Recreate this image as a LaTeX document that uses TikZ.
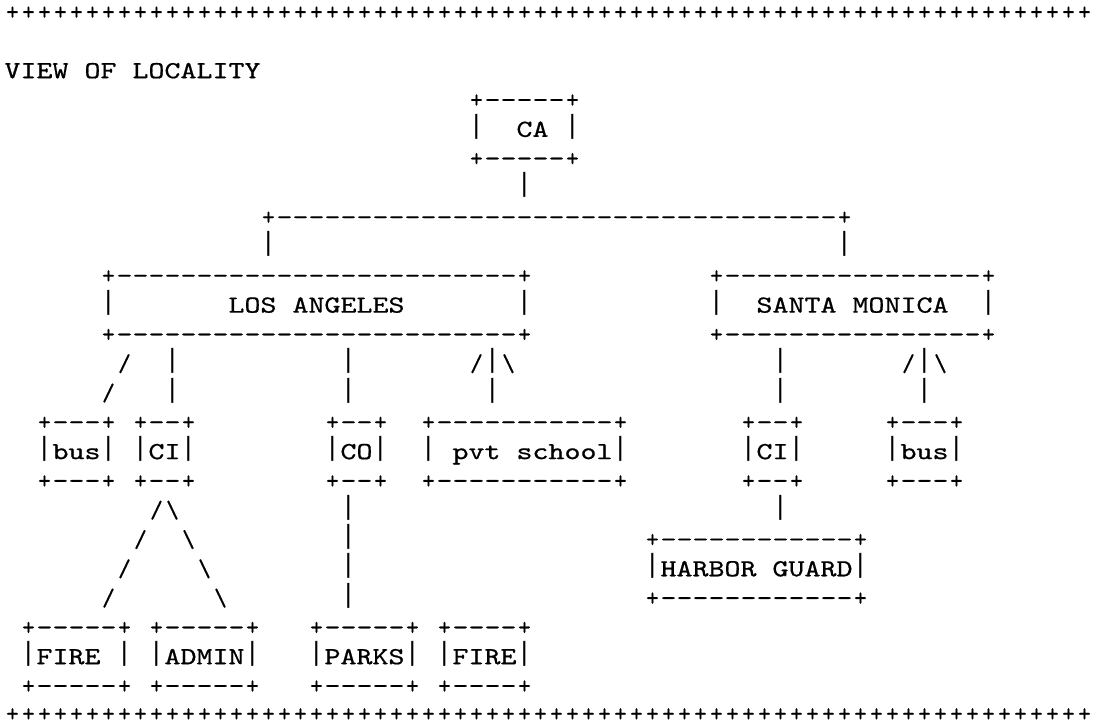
\documentclass[tikz,border=0pt]{standalone}
\usepackage{graphicx}
\usepackage{fontspec}
\newfontfamily\artfam{lmmono10-regular}[Extension=.otf,FakeBold=0.6]
\newfontfamily\barfam{DejaVu Sans Mono}
\newcommand\artfont{\artfam\fontsize{24.5}{29}\selectfont}
\newcommand\vbar{\raisebox{3.5pt}{\barfam\fontsize{25}{29}\selectfont|}}
\newcommand\hy{\scalebox{1.25}[1]{-}}
\newcommand\lbltext[1]{\scalebox{1.244}[1]{#1}}
% a row of ASCII border on the character grid: name, first col, last col, row
\newcommand\hrow[4]{%
  \node[sym] (#1-a) at (#2,#4) {+};
  \node[sym] (#1-b) at (#3,#4) {+};
  \pgfmathtruncatemacro\hrowfrom{#2+1}%
  \pgfmathtruncatemacro\hrowto{#3-1}%
  \foreach \i in {\hrowfrom,...,\hrowto} {\node[sym] (#1-\i) at (\i,#4) {\hy};}
}
% an ASCII box: name, first col, last col, label centre col, label, row of label
\newcommand\abox[6]{%
  \hrow{#1-top}{#2}{#3}{#6-1}
  \hrow{#1-bot}{#2}{#3}{#6+1}
  \node[sym] (#1-l) at (#2,#6) {\vbar};
  \node[sym] (#1-r) at (#3,#6) {\vbar};
  \node[lbl] (#1) at (#4,#6) {\lbltext{#5}};
}
\newcommand\cg[4]{\node[sym] (#1) at (#2,#3) {#4};}
\begin{document}
\begin{tikzpicture}[x=1pt,y=-1pt,
  sym/.style={anchor=base,inner sep=0pt,outer sep=0pt,font=\artfont},
  lbl/.style={anchor=base,inner sep=0pt,outer sep=0pt,font=\artfont}]
\fill[white] (0,0) rectangle (1096,726);
\useasboundingbox (0,0) rectangle (1096,726);
\begin{scope}[x=16pt,y=-29.3pt,shift={(12.5pt,-19.6pt)}]
% frame lines of plus signs
\foreach \i in {0,...,67} {
  \node[sym] (pt\i) at (\i,0) {+};
  \node[sym] (pb\i) at (\i,23.95) {+};
}
\node[lbl] (title) at (7.5,2) {\lbltext{VIEW OF LOCALITY}};
% boxes
\abox{ca}{29}{35}{32.5}{CA}{4}
\hrow{trunk}{16}{52}{7}
\abox{la}{6}{32}{19}{LOS ANGELES}{10}
\abox{sm}{44}{61}{52.5}{SANTA MONICA}{10}
\abox{busl}{2}{6}{4}{bus}{15}
\abox{cil}{8}{11}{9.5}{CI}{15}
\abox{co}{20}{23}{21.5}{CO}{15}
\abox{pvt}{26}{38}{32.5}{pvt school}{15}
\abox{cir}{46}{49}{47.5}{CI}{15}
\abox{busr}{55}{59}{57}{bus}{15}
\abox{hg}{40}{53}{46.5}{HARBOR GUARD}{19}
\abox{firel}{1}{7}{3.5}{FIRE}{22}
\abox{admin}{9}{15}{12}{ADMIN}{22}
\abox{parks}{19}{25}{22}{PARKS}{22}
\abox{firer}{27}{32}{29.5}{FIRE}{22}
% connectors
\cg{c1}{32}{6}{\vbar}
\cg{c2}{16}{8}{\vbar}
\cg{c3}{52}{8}{\vbar}
\cg{c4}{7}{12}{/}
\cg{c5}{10}{12}{\vbar}
\cg{c6}{21}{12}{\vbar}
\cg{c7}{29}{12}{/}
\cg{c8}{30}{12}{\vbar}
\cg{c9}{31}{12}{\textbackslash}
\cg{c10}{48}{12}{\vbar}
\cg{c11}{56}{12}{/}
\cg{c12}{57}{12}{\vbar}
\cg{c13}{58}{12}{\textbackslash}
\cg{c14}{6}{13}{/}
\cg{c15}{10}{13}{\vbar}
\cg{c16}{21}{13}{\vbar}
\cg{c17}{30}{13}{\vbar}
\cg{c18}{48}{13}{\vbar}
\cg{c19}{57}{13}{\vbar}
\cg{c20}{9}{17}{/}
\cg{c21}{10}{17}{\textbackslash}
\cg{c22}{21}{17}{\vbar}
\cg{c23}{48}{17}{\vbar}
\cg{c24}{8}{18}{/}
\cg{c25}{11}{18}{\textbackslash}
\cg{c26}{21}{18}{\vbar}
\cg{c27}{7}{19}{/}
\cg{c28}{12}{19}{\textbackslash}
\cg{c29}{21}{19}{\vbar}
\cg{c30}{6}{20}{/}
\cg{c31}{13}{20}{\textbackslash}
\cg{c32}{21}{20}{\vbar}
\end{scope}
\end{tikzpicture}
\end{document}
